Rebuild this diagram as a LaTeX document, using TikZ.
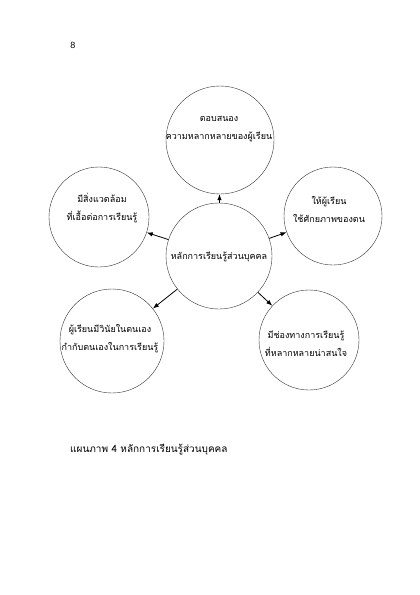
\documentclass[tikz,border=0pt]{standalone}
\usepackage{fontspec}
\newfontfamily\thaifont[Script=Thai]{Loma}
\newfontfamily\arialfont{Liberation Sans}
\usetikzlibrary{arrows.meta}
\begin{document}
\begin{tikzpicture}[x=1pt,y=-1pt,
  ring/.style={draw=black!80,line width=0.4pt,circle,inner sep=0pt},
  lbl/.style={font=\thaifont\fontsize{9}{18}\selectfont,align=center,inner sep=0pt},
  conn/.style={line width=0.8pt,-{Latex[length=6pt,width=4.5pt]}}]
\useasboundingbox (0,0) rectangle (420,595);
\node[ring,minimum size=106pt] (hub) at (219,256) {};
\node[ring,minimum size=108pt] (top) at (220,140) {};
\node[ring,minimum size=98pt] (rgt) at (333,216) {};
\node[ring,minimum size=100pt] (lft) at (99,217) {};
\node[ring,minimum size=104pt] (bl) at (112,341) {};
\node[ring,minimum size=100pt] (br) at (309,340) {};
\node[lbl] (thub) at (219,257) {หลักการเรียนรู้ส่วนบุคคล};
\node[lbl] (ttop) at (219,129) {ตอบสนอง\\ความหลากหลายของผู้เรียน};
\node[lbl] (trgt) at (329,209) {ให้ผู้เรียน\\ใช้ศักยภาพของตน};
\node[lbl] (tlft) at (102,208) {มีสิ่งแวดล้อม\\ที่เอื้อต่อการเรียนรู้};
\node[lbl] (tbl) at (110,339) {ผู้เรียนมีวินัยในตนเอง\\กำกับตนเองในการเรียนรู้};
\node[lbl] (tbr) at (306,344) {มีช่องทางการเรียนรู้\\ที่หลากหลายน่าสนใจ};
\draw[conn] (hub) -- (top);
\draw[conn] (hub) -- (rgt);
\draw[conn] (hub) -- (lft);
\draw[conn] (hub) -- (bl);
\draw[conn] (hub) -- (br);
\node[font=\arialfont\fontsize{9}{11}\selectfont,inner sep=0pt] (pg) at (73,45) {8};
\node[font=\thaifont\fontsize{10}{12}\selectfont,anchor=west,inner sep=0pt] (cap) at (70,450) {แผนภาพ 4 หลักการเรียนรู้ส่วนบุคคล};
\end{tikzpicture}
\end{document}
